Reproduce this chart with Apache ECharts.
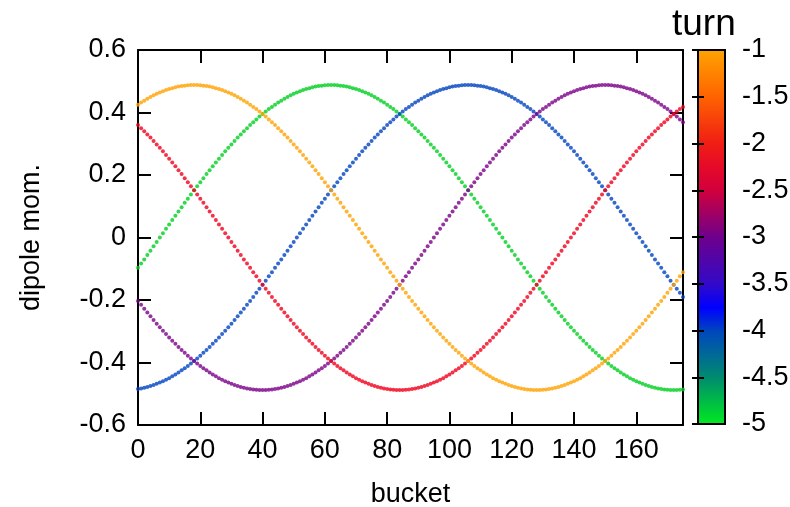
<!DOCTYPE html>
<html>
<head>
<meta charset="utf-8">
<script src="https://cdn.jsdelivr.net/npm/echarts@6/dist/echarts.min.js"></script>
<style>
  html, body { margin: 0; padding: 0; background: #fff; }
  #chart { width: 790px; height: 507px; }
</style>
</head>
<body>
<div id="chart"></div>
<script>
  // dipole moment per bucket (bucket = array index 0..175), one list per turn
  var turns = [-5, -4, -3, -2, -1];

  var dipoleTurn5 = [
    -0.097, -0.083, -0.07, -0.056, -0.042, -0.028, -0.014, 0,
    0.014, 0.028, 0.042, 0.056, 0.07, 0.083, 0.097, 0.111, 0.124, 0.138,
    0.151, 0.164, 0.177, 0.19, 0.203, 0.215, 0.228, 0.24, 0.252, 0.264,
    0.276, 0.287, 0.298, 0.309, 0.32, 0.33, 0.34, 0.35, 0.36, 0.369,
    0.378, 0.387, 0.395, 0.403, 0.411, 0.418, 0.425, 0.432, 0.438, 0.444,
    0.45, 0.455, 0.46, 0.464, 0.468, 0.472, 0.475, 0.478, 0.481, 0.483,
    0.485, 0.486, 0.487, 0.488, 0.488,
    0.488, 0.487, 0.486, 0.485, 0.483, 0.481, 0.478, 0.475, 0.472, 0.468,
    0.464, 0.46, 0.455, 0.45, 0.444, 0.438, 0.432, 0.425, 0.418, 0.411,
    0.403, 0.395, 0.387, 0.378, 0.369, 0.36, 0.35, 0.34, 0.33, 0.32,
    0.309, 0.298, 0.287, 0.276, 0.264, 0.252, 0.24, 0.228, 0.215, 0.203,
    0.19, 0.177, 0.164, 0.151, 0.138, 0.124, 0.111, 0.097, 0.083, 0.07,
    0.056, 0.042, 0.028, 0.014, 0,
    -0.014, -0.028, -0.042, -0.056, -0.07, -0.083, -0.097, -0.111, -0.124, -0.138,
    -0.151, -0.164, -0.177, -0.19, -0.203, -0.215, -0.228, -0.24, -0.252, -0.264,
    -0.276, -0.287, -0.298, -0.309, -0.32, -0.33, -0.34, -0.35, -0.36, -0.369,
    -0.378, -0.387, -0.395, -0.403, -0.411, -0.418, -0.425, -0.432, -0.438, -0.444,
    -0.45, -0.455, -0.46, -0.464, -0.468, -0.472, -0.475, -0.478, -0.481, -0.483,
    -0.485, -0.486, -0.487, -0.488, -0.488,
    -0.488, -0.487, -0.486
  ];

  var dipoleTurn4 = [
    -0.485, -0.483, -0.481, -0.478,
    -0.475, -0.472, -0.468, -0.464, -0.46, -0.455, -0.45, -0.444, -0.438, -0.432,
    -0.425, -0.418, -0.411, -0.403, -0.395, -0.387, -0.378, -0.369, -0.36, -0.35,
    -0.34, -0.33, -0.32, -0.309, -0.298, -0.287, -0.276, -0.264, -0.252, -0.24,
    -0.228, -0.215, -0.203, -0.19, -0.177, -0.164, -0.151, -0.138, -0.124, -0.111,
    -0.097, -0.083, -0.07, -0.056, -0.042, -0.028, -0.014, 0,
    0.014, 0.028, 0.042, 0.056, 0.07, 0.083, 0.097, 0.111, 0.124, 0.138,
    0.151, 0.164, 0.177, 0.19, 0.203, 0.215, 0.228, 0.24, 0.252, 0.264,
    0.276, 0.287, 0.298, 0.309, 0.32, 0.33, 0.34, 0.35, 0.36, 0.369,
    0.378, 0.387, 0.395, 0.403, 0.411, 0.418, 0.425, 0.432, 0.438, 0.444,
    0.45, 0.455, 0.46, 0.464, 0.468, 0.472, 0.475, 0.478, 0.481, 0.483,
    0.485, 0.486, 0.487, 0.488, 0.488,
    0.488, 0.487, 0.486, 0.485, 0.483, 0.481, 0.478, 0.475, 0.472, 0.468,
    0.464, 0.46, 0.455, 0.45, 0.444, 0.438, 0.432, 0.425, 0.418, 0.411,
    0.403, 0.395, 0.387, 0.378, 0.369, 0.36, 0.35, 0.34, 0.33, 0.32,
    0.309, 0.298, 0.287, 0.276, 0.264, 0.252, 0.24, 0.228, 0.215, 0.203,
    0.19, 0.177, 0.164, 0.151, 0.138, 0.124, 0.111, 0.097, 0.083, 0.07,
    0.056, 0.042, 0.028, 0.014, 0,
    -0.014, -0.028, -0.042, -0.056, -0.07, -0.083, -0.097, -0.111, -0.124, -0.138,
    -0.151, -0.164, -0.177, -0.19
  ];

  var dipoleTurn3 = [
    -0.203, -0.215, -0.228, -0.24, -0.252, -0.264,
    -0.276, -0.287, -0.298, -0.309, -0.32, -0.33, -0.34, -0.35, -0.36, -0.369,
    -0.378, -0.387, -0.395, -0.403, -0.411, -0.418, -0.425, -0.432, -0.438, -0.444,
    -0.45, -0.455, -0.46, -0.464, -0.468, -0.472, -0.475, -0.478, -0.481, -0.483,
    -0.485, -0.486, -0.487, -0.488, -0.488,
    -0.488, -0.487, -0.486, -0.485, -0.483, -0.481, -0.478, -0.475, -0.472, -0.468,
    -0.464, -0.46, -0.455, -0.45, -0.444, -0.438, -0.432, -0.425, -0.418, -0.411,
    -0.403, -0.395, -0.387, -0.378, -0.369, -0.36, -0.35, -0.34, -0.33, -0.32,
    -0.309, -0.298, -0.287, -0.276, -0.264, -0.252, -0.24, -0.228, -0.215, -0.203,
    -0.19, -0.177, -0.164, -0.151, -0.138, -0.124, -0.111, -0.097, -0.083, -0.07,
    -0.056, -0.042, -0.028, -0.014, 0,
    0.014, 0.028, 0.042, 0.056, 0.07, 0.083, 0.097, 0.111, 0.124, 0.138,
    0.151, 0.164, 0.177, 0.19, 0.203, 0.215, 0.228, 0.24, 0.252, 0.264,
    0.276, 0.287, 0.298, 0.309, 0.32, 0.33, 0.34, 0.35, 0.36, 0.369,
    0.378, 0.387, 0.395, 0.403, 0.411, 0.418, 0.425, 0.432, 0.438, 0.444,
    0.45, 0.455, 0.46, 0.464, 0.468, 0.472, 0.475, 0.478, 0.481, 0.483,
    0.485, 0.486, 0.487, 0.488, 0.488,
    0.488, 0.487, 0.486, 0.485, 0.483, 0.481, 0.478, 0.475, 0.472, 0.468,
    0.464, 0.46, 0.455, 0.45, 0.444, 0.438, 0.432, 0.425, 0.418, 0.411,
    0.403, 0.395, 0.387, 0.378, 0.369
  ];

  var dipoleTurn2 = [
    0.36, 0.35, 0.34, 0.33, 0.32, 0.309, 0.298, 0.287, 0.276, 0.264,
    0.252, 0.24, 0.228, 0.215, 0.203, 0.19, 0.177, 0.164, 0.151, 0.138,
    0.124, 0.111, 0.097, 0.083, 0.07, 0.056, 0.042, 0.028, 0.014, 0,
    -0.014, -0.028, -0.042, -0.056, -0.07, -0.083, -0.097, -0.111, -0.124, -0.138,
    -0.151, -0.164, -0.177, -0.19, -0.203, -0.215, -0.228, -0.24, -0.252, -0.264,
    -0.276, -0.287, -0.298, -0.309, -0.32, -0.33, -0.34, -0.35, -0.36, -0.369,
    -0.378, -0.387, -0.395, -0.403, -0.411, -0.418, -0.425, -0.432, -0.438, -0.444,
    -0.45, -0.455, -0.46, -0.464, -0.468, -0.472, -0.475, -0.478, -0.481, -0.483,
    -0.485, -0.486, -0.487, -0.488, -0.488,
    -0.488, -0.487, -0.486, -0.485, -0.483, -0.481, -0.478, -0.475, -0.472, -0.468,
    -0.464, -0.46, -0.455, -0.45, -0.444, -0.438, -0.432, -0.425, -0.418, -0.411,
    -0.403, -0.395, -0.387, -0.378, -0.369, -0.36, -0.35, -0.34, -0.33, -0.32,
    -0.309, -0.298, -0.287, -0.276, -0.264, -0.252, -0.24, -0.228, -0.215, -0.203,
    -0.19, -0.177, -0.164, -0.151, -0.138, -0.124, -0.111, -0.097, -0.083, -0.07,
    -0.056, -0.042, -0.028, -0.014, 0,
    0.014, 0.028, 0.042, 0.056, 0.07, 0.083, 0.097, 0.111, 0.124, 0.138,
    0.151, 0.164, 0.177, 0.19, 0.203, 0.215, 0.228, 0.24, 0.252, 0.264,
    0.276, 0.287, 0.298, 0.309, 0.32, 0.33, 0.34, 0.35, 0.36, 0.369,
    0.378, 0.387, 0.395, 0.403, 0.411, 0.418
  ];

  var dipoleTurn1 = [
    0.425, 0.432, 0.438, 0.444, 0.45, 0.455, 0.46, 0.464, 0.468, 0.472,
    0.475, 0.478, 0.481, 0.483, 0.485, 0.486, 0.487, 0.488, 0.488,
    0.488, 0.487, 0.486, 0.485, 0.483, 0.481, 0.478, 0.475, 0.472, 0.468,
    0.464, 0.46, 0.455, 0.45, 0.444, 0.438, 0.432, 0.425, 0.418, 0.411,
    0.403, 0.395, 0.387, 0.378, 0.369, 0.36, 0.35, 0.34, 0.33, 0.32,
    0.309, 0.298, 0.287, 0.276, 0.264, 0.252, 0.24, 0.228, 0.215, 0.203,
    0.19, 0.177, 0.164, 0.151, 0.138, 0.124, 0.111, 0.097, 0.083, 0.07,
    0.056, 0.042, 0.028, 0.014, 0,
    -0.014, -0.028, -0.042, -0.056, -0.07, -0.083, -0.097, -0.111, -0.124, -0.138,
    -0.151, -0.164, -0.177, -0.19, -0.203, -0.215, -0.228, -0.24, -0.252, -0.264,
    -0.276, -0.287, -0.298, -0.309, -0.32, -0.33, -0.34, -0.35, -0.36, -0.369,
    -0.378, -0.387, -0.395, -0.403, -0.411, -0.418, -0.425, -0.432, -0.438, -0.444,
    -0.45, -0.455, -0.46, -0.464, -0.468, -0.472, -0.475, -0.478, -0.481, -0.483,
    -0.485, -0.486, -0.487, -0.488, -0.488,
    -0.488, -0.487, -0.486, -0.485, -0.483, -0.481, -0.478, -0.475, -0.472, -0.468,
    -0.464, -0.46, -0.455, -0.45, -0.444, -0.438, -0.432, -0.425, -0.418, -0.411,
    -0.403, -0.395, -0.387, -0.378, -0.369, -0.36, -0.35, -0.34, -0.33, -0.32,
    -0.309, -0.298, -0.287, -0.276, -0.264, -0.252, -0.24, -0.228, -0.215, -0.203,
    -0.19, -0.177, -0.164, -0.151, -0.138, -0.124, -0.111
  ];

  var dipoleByTurn = [dipoleTurn5, dipoleTurn4, dipoleTurn3, dipoleTurn2, dipoleTurn1];

  // colours of the turns (same as the palette of the colour bar)
  var turnColors = ['#00d020', '#0044c0', '#7a0088', '#f0001c', '#ffa200'];

  // palette of the colour bar, top (-1) to bottom (-5)
  var paletteStops = [
    [0, '#ffa500'], [0.125, '#ff6400'], [0.25, '#f01e14'], [0.3125, '#e60a28'],
    [0.375, '#d2003c'], [0.4375, '#a00064'], [0.5, '#6e008c'], [0.625, '#320ac8'],
    [0.6875, '#0000ff'], [0.75, '#0046be'], [0.875, '#008c6e'], [1, '#00eb1e']
  ];

  var font = 'Liberation Sans';
  var black = '#000';

  var chart = echarts.init(document.getElementById('chart'), null, { renderer: 'canvas' });

  var frameAxis = function (extra) {
    var base = {
      axisLine: { show: true, onZero: false, lineStyle: { color: black, width: 2 } },
      axisTick: { show: true, inside: true, length: 13, lineStyle: { color: black, width: 2 } },
      splitLine: { show: false },
      axisLabel: { show: false }
    };
    return Object.assign(base, extra);
  };

  var option = {
    backgroundColor: '#fff',
    animation: false,
    title: {
      text: 'turn',
      left: 667,
      top: 1,
      textStyle: { fontFamily: font, fontSize: 37, fontWeight: 'normal', color: black }
    },
    grid: [
      { left: 138, top: 50, width: 545, height: 375, containLabel: false, outerBoundsMode: 'none' },
      {
        left: 698, top: 50, width: 27, height: 374, show: true,
        containLabel: false, outerBoundsMode: 'none',
        borderColor: black, borderWidth: 2,
        backgroundColor: {
          type: 'linear', x: 0, y: 0, x2: 0, y2: 1,
          colorStops: paletteStops.map(function (s) { return { offset: s[0], color: s[1] }; })
        }
      }
    ],
    xAxis: [
      frameAxis({
        gridIndex: 0, type: 'value', min: 0, max: 175, interval: 20, position: 'bottom',
        axisLabel: {
          show: true, color: black, fontFamily: font, fontSize: 27, margin: 12,
          showMaxLabel: false,
          formatter: function (v) { return v % 20 === 0 ? String(v) : ''; }
        },
        name: 'bucket', nameLocation: 'middle', nameGap: 56,
        nameTextStyle: { color: black, fontFamily: font, fontSize: 27 }
      }),
      frameAxis({ gridIndex: 0, type: 'value', min: 0, max: 175, interval: 20, position: 'top' }),
      { gridIndex: 1, type: 'value', min: 0, max: 1, show: false }
    ],
    yAxis: [
      frameAxis({
        gridIndex: 0, type: 'value', min: -0.6, max: 0.6, interval: 0.2, position: 'left',
        axisLabel: { show: true, color: black, fontFamily: font, fontSize: 27, margin: 12 },
        name: 'dipole mom.', nameLocation: 'middle', nameGap: 93, nameRotate: 90,
        nameTextStyle: { color: black, fontFamily: font, fontSize: 27 }
      }),
      frameAxis({ gridIndex: 0, type: 'value', min: -0.6, max: 0.6, interval: 0.2, position: 'right' }),
      {
        gridIndex: 1, type: 'value', min: -5, max: -1, interval: 0.5, position: 'right',
        axisLine: { show: false },
        axisTick: { show: true, inside: true, length: 6, lineStyle: { color: black, width: 2 } },
        splitLine: { show: false },
        axisLabel: { show: true, color: black, fontFamily: font, fontSize: 27, margin: 17 }
      },
      {
        gridIndex: 1, type: 'value', min: -5, max: -1, interval: 0.5, position: 'left',
        axisLine: { show: false },
        axisTick: { show: true, inside: true, length: 6, lineStyle: { color: black, width: 2 } },
        splitLine: { show: false },
        axisLabel: { show: false }
      }
    ],
    series: turns.map(function (t, k) {
      return {
        name: 'turn ' + t,
        type: 'scatter',
        xAxisIndex: 0,
        yAxisIndex: 0,
        symbol: 'circle',
        symbolSize: 4,
        itemStyle: { color: turnColors[k] },
        data: dipoleByTurn[k].map(function (v, i) { return [i, v]; })
      };
    })
  };

  chart.setOption(option);
</script>
</body>
</html>
